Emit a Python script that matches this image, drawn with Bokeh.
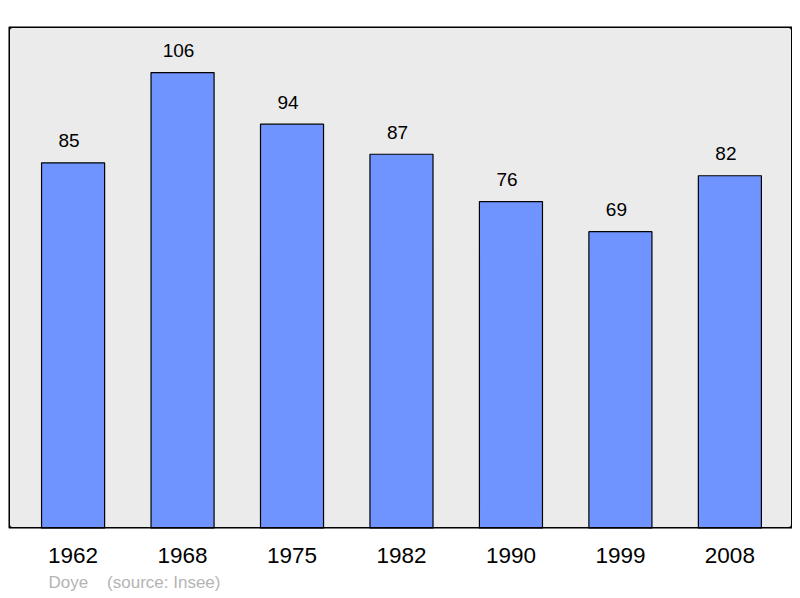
from bokeh.plotting import figure
from bokeh.models import Range1d, FixedTicker, BoxAnnotation, Title, ColumnDataSource
from bokeh.core.properties import value
from bokeh.embed import file_html
from bokeh.resources import INLINE

years = ["1962", "1968", "1975", "1982", "1990", "1999", "2008"]
population = [85, 106, 94, 87, 76, 69, 82]
commune = "Doye"
source_note = "(source: Insee)"

xs = list(range(len(years)))
src = ColumnDataSource(dict(x=xs, top=population, label=[str(v) for v in population]))

p = figure(width=792, height=597, output_backend="svg", toolbar_location=None,
           x_range=Range1d(-0.59, 6.572), y_range=Range1d(0, 116.7),
           min_border_left=8, min_border_right=0, min_border_top=26, min_border_bottom=0)
p.background_fill_color = "#ebebeb"
p.border_fill_color = "white"
p.outline_line_color = None
p.grid.visible = False
p.yaxis.visible = False

p.vbar(x="x", top="top", width=0.576, bottom=0, source=src,
       fill_color="#7094ff", line_color="black", line_width=1.2)
p.text(x="x", y="top", text="label", source=src, text_align="center",
       text_baseline="alphabetic", y_offset=-22, x_offset=-4,
       text_font=value("Liberation Sans"),
       text_font_size="19px", text_color="black")

frame = BoxAnnotation(fill_color=None, fill_alpha=0, line_color="black", line_alpha=1,
                      line_width=3, border_radius=4)
p.add_layout(frame)

ax = p.xaxis[0]
ax.ticker = FixedTicker(ticks=xs)
ax.major_label_overrides = {i: y for i, y in enumerate(years)}
ax.axis_line_color = None
ax.major_tick_line_color = None
ax.minor_tick_line_color = None
ax.major_label_text_font = "Liberation Sans"
ax.major_label_text_font_size = "22.5px"
ax.major_label_text_color = "black"
ax.major_label_standoff = 13

t = Title(text=commune + "\u00a0" * 4 + source_note, text_font="Liberation Sans",
          text_font_size="17px", text_font_style="normal", text_color="#b4b4b4",
          align="left", offset=40, standoff=11)
p.add_layout(t, "below")

open("out.html", "w").write(file_html(p, INLINE))
